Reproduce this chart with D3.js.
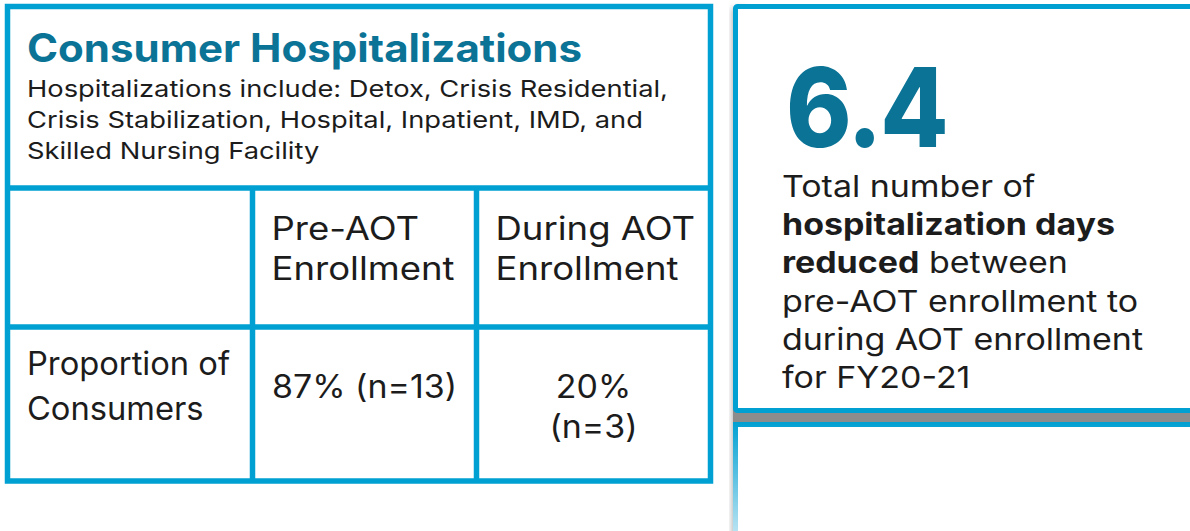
<!DOCTYPE html>
<html>
<head>
<meta charset="utf-8">
<script src="https://cdn.jsdelivr.net/npm/d3@7"></script>
<style>
  body { margin: 0; background: #fff; overflow: hidden; }
  svg { display: block; }
</style>
</head>
<body>
<div id="main"></div>
<script>
// table content
const title = 'Consumer Hospitalizations';
const noteLines = [
  'Hospitalizations include: Detox, Crisis Residential,',
  'Crisis Stabilization, Hospital, Inpatient, IMD, and',
  'Skilled Nursing Facility'
];
const periods = [['Pre-AOT', 'Enrollment'], ['During AOT', 'Enrollment']];
const rowLabel = ['Proportion of', 'Consumers'];
const percents = [87, 20];
const counts = [13, 3];
const wrapValue = [false, true];

// stat card content
const statValue = 6.4;
const statLines = [
  [['Total number of', false]],
  [['hospitalization days', true]],
  [['reduced', true], [' between', false]],
  [['pre-AOT enrollment to', false]],
  [['during AOT enrollment', false]],
  [['for FY20-21', false]]
];

const W = 1190, H = 531;
const blue = '#00a0d2', teal = '#0b7396', ink = '#1c1c1c';
const font = 'Inter, "Open Sans", sans-serif';

let svg = d3.select('#main')
  .append('svg')
  .attr('width', W)
  .attr('height', H);

const defs = svg.append('defs');
defs.append('filter').attr('id', 'soft')
  .attr('x', '-20%').attr('y', '-20%').attr('width', '140%').attr('height', '140%')
  .append('feGaussianBlur').attr('stdDeviation', 3);
let grad = defs.append('linearGradient').attr('id', 'fade')
  .attr('x1', 0).attr('y1', 0).attr('x2', 0).attr('y2', 1);
grad.append('stop').attr('offset', 0).attr('stop-color', blue);
grad.append('stop').attr('offset', 1).attr('stop-color', '#c9e9f5');

// column edges and row edges of the table (border centre lines)
const colX = d3.scaleOrdinal().domain([0, 1, 2, 3]).range([7.5, 252.5, 476.5, 710.5]);
const rowY = d3.scaleOrdinal().domain([0, 1, 2, 3]).range([6.5, 188, 327, 481]);
const bw = 5.5;

// stretch text lines horizontally so a group matches the reference width
function stretch(sel, factor) {
  sel.each(function () {
    const len = this.getComputedTextLength();
    d3.select(this).attr('textLength', len * factor).attr('lengthAdjust', 'spacingAndGlyphs');
  });
}
function factorFor(sel, target) {
  return target / sel.node().getComputedTextLength();
}

// ---- table ----
let table = svg.append('g');

table.append('rect')
  .attr('x', colX(0)).attr('y', rowY(0))
  .attr('width', colX(3) - colX(0)).attr('height', rowY(3) - rowY(0))
  .attr('fill', '#fff').attr('stroke', blue).attr('stroke-width', bw);

table.selectAll('line.h')
  .data([1, 2])
  .enter().append('line')
    .attr('class', 'h')
    .attr('x1', colX(0)).attr('x2', colX(3))
    .attr('y1', d => rowY(d)).attr('y2', d => rowY(d))
    .attr('stroke', blue).attr('stroke-width', bw);

table.selectAll('line.v')
  .data([1, 2])
  .enter().append('line')
    .attr('class', 'v')
    .attr('x1', d => colX(d)).attr('x2', d => colX(d))
    .attr('y1', rowY(1)).attr('y2', rowY(3))
    .attr('stroke', blue).attr('stroke-width', bw);

let titleText = table.append('text')
  .text(title)
  .attr('x', 27).attr('y', 62)
  .attr('font-family', font).attr('font-weight', 700)
  .attr('font-size', 39).attr('fill', teal);
stretch(titleText, factorFor(titleText, 555));

let notes = table.selectAll('text.note')
  .data(noteLines)
  .enter().append('text')
    .attr('class', 'note')
    .text(d => d)
    .attr('x', 27)
    .attr('y', (d, i) => 97 + i * 31)
    .attr('font-family', font).attr('font-size', 23.5).attr('fill', ink);
stretch(notes, factorFor(notes.filter((d, i) => i === 0), 641));

// header cells, left aligned in columns 1 and 2
let heads = table.selectAll('g.head')
  .data(periods)
  .enter().append('g')
    .attr('class', 'head');
heads.selectAll('text')
  .data((d, i) => d.map(s => ({ s, col: i + 1 })))
  .enter().append('text')
    .text(d => d.s)
    .attr('x', d => colX(d.col) + 19)
    .attr('y', (d, i) => 240 + i * 40)
    .attr('font-family', font).attr('font-size', 32).attr('fill', ink);
let headText = table.selectAll('g.head text');
stretch(headText, factorFor(headText.filter((d, i) => i === 1), 183));

let labels = table.selectAll('text.rlab')
  .data(rowLabel)
  .enter().append('text')
    .attr('class', 'rlab')
    .text(d => d)
    .attr('x', 27)
    .attr('y', (d, i) => 375 + i * 45)
    .attr('font-family', font).attr('font-size', 32).attr('fill', ink);
stretch(labels, factorFor(labels, 203));

// value cells, centred
const valueLines = percents.map((p, i) => {
  const a = p + '%', b = '(n=' + counts[i] + ')';
  return wrapValue[i] ? [a, b] : [a + ' ' + b];
});
let vals = table.selectAll('g.val')
  .data(valueLines)
  .enter().append('g')
    .attr('class', 'val');
vals.selectAll('text')
  .data((d, i) => d.map(s => ({ s, col: i + 1 })))
  .enter().append('text')
    .text(d => d.s)
    .attr('x', d => (colX(d.col) + colX(d.col + 1)) / 2)
    .attr('y', (d, i) => 398 + i * 40)
    .attr('text-anchor', 'middle')
    .attr('font-family', font).attr('font-size', 32).attr('fill', ink);
let valText = table.selectAll('g.val text');
stretch(valText, factorFor(valText, 185));

// ---- stat cards ----
let cards = svg.append('g');
const cardX = 735.5, cardR = 1205;

// soft shadow on the left of both cards
cards.append('rect')
  .attr('x', cardX - 3).attr('y', 8).attr('width', 14).attr('height', 540)
  .attr('fill', '#a8a8a8').attr('filter', 'url(#soft)');
// solid grey band beneath the first card
cards.append('rect')
  .attr('x', cardX - 2.5).attr('y', 405).attr('width', cardR - cardX + 10).attr('height', 18)
  .attr('fill', '#8c8c8c');

// second card (only its top shows)
cards.append('rect')
  .attr('x', cardX - 2.5).attr('y', 422).attr('width', cardR - cardX + 10).attr('height', 120)
  .attr('fill', 'url(#fade)');
cards.append('rect')
  .attr('x', cardX + 2.5).attr('y', 427).attr('width', cardR - cardX).attr('height', 120)
  .attr('fill', '#fff');

// first card
cards.append('rect')
  .attr('x', cardX).attr('y', 6.5)
  .attr('width', cardR - cardX).attr('height', 404)
  .attr('rx', 2)
  .attr('fill', '#fff').attr('stroke', blue).attr('stroke-width', 5);

let big = cards.append('text')
  .text(d3.format('.1f')(statValue))
  .attr('x', 786).attr('y', 147)
  .attr('font-family', font).attr('font-weight', 800)
  .attr('font-size', 110).attr('fill', teal)
  .attr('letter-spacing', -2);
stretch(big, factorFor(big, 161));

let body = cards.selectAll('text.body')
  .data(statLines)
  .enter().append('text')
    .attr('class', 'body')
    .attr('x', 782)
    .attr('y', (d, i) => 197 + i * 38.2)
    .attr('font-family', font).attr('font-size', 30).attr('fill', ink);
body.selectAll('tspan')
  .data(d => d)
  .enter().append('tspan')
    .text(d => d[0])
    .attr('font-weight', d => d[1] ? 700 : 400);
stretch(body, factorFor(body.filter((d, i) => i === 4), 361));
</script>
</body>
</html>
